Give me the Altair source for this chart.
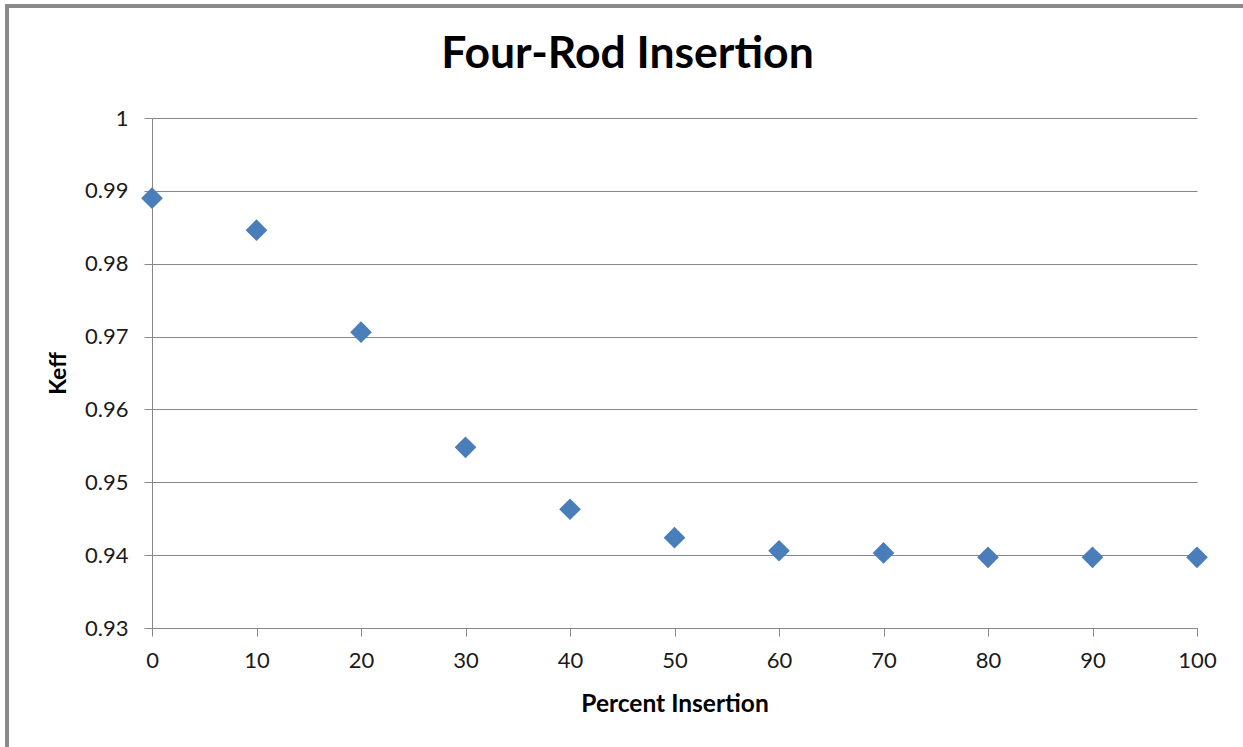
import altair as alt
import pandas as pd

percent_insertion = [0, 10, 20, 30, 40, 50, 60, 70, 80, 90, 100]
keff = [0.9890, 0.9846, 0.9706, 0.9548, 0.9463, 0.9424, 0.9406, 0.9403, 0.9397, 0.9397, 0.9397]
x_ticks = [0, 10, 20, 30, 40, 50, 60, 70, 80, 90, 100]
y_ticks = [0.93, 0.94, 0.95, 0.96, 0.97, 0.98, 0.99, 1.0]

df = pd.DataFrame({"Percent Insertion": percent_insertion, "Keff": keff})

FONT = "Lato"
GRID = "#878787"

points = alt.Chart(df).mark_point(
    shape="diamond", filled=True, size=470, color="#4a7ebb", opacity=1
).encode(
    x=alt.X("Percent Insertion:Q",
            scale=alt.Scale(domain=[0, 100], nice=False, zero=False),
            axis=alt.Axis(values=x_ticks, grid=False, title="Percent Insertion",
                          tickSize=8, labelPadding=14, labelFlush=False,
                          titlePadding=21, titleFontSize=24.5)),
    y=alt.Y("Keff:Q",
            scale=alt.Scale(domain=[0.93, 1.0], nice=False, zero=False),
            axis=alt.Axis(values=y_ticks, format="~g", grid=True, title="Keff",
                          tickSize=8, labelPadding=16, labelFlush=False,
                          titlePadding=14)),
)

border = alt.Chart(df).mark_rect(
    fill=None, filled=False, stroke="#8a8a8a", strokeWidth=3
).encode(
    x=alt.value(-145), x2=alt.value(1110),
    y=alt.value(-112), y2=alt.value(640),
)

chart = alt.layer(border, points).properties(
    width=1045,
    height=510,
    title=alt.TitleParams(
        text="Four-Rod Insertion", font=FONT, fontSize=44.5, fontWeight="bold",
        color="#000000", anchor="middle", frame="group", dx=-47,
        baseline="alphabetic", offset=-108,
    ),
    autosize=alt.AutoSizeParams(type="none"),
    padding={"left": 152, "top": 118, "right": 46, "bottom": 119},
    background="white",
).configure_view(
    stroke=None
).configure_axis(
    labelFont=FONT, labelFontSize=22, labelColor="#1a1a1a",
    titleFont=FONT, titleFontSize=23, titleFontWeight="bold", titleColor="#000000",
    domainColor=GRID, domainWidth=1, tickColor=GRID, tickWidth=1,
    gridColor=GRID, gridWidth=1, gridOpacity=1,
)

chart.save("out.html", embed_options={"renderer": "svg", "actions": False})
